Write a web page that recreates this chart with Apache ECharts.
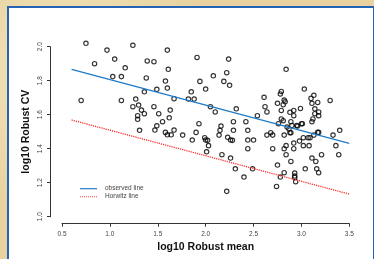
<!DOCTYPE html>
<html>
<head>
<meta charset="utf-8">
<script src="https://cdn.jsdelivr.net/npm/echarts@6/dist/echarts.min.js"></script>
<style>
html,body{margin:0;padding:0;width:374px;height:259px;overflow:hidden;
  background:#e8d3a0;
  background-image:radial-gradient(circle at 20% 30%, rgba(255,245,215,0.6) 0, rgba(255,245,215,0) 40%),
                   radial-gradient(circle at 80% 70%, rgba(200,170,110,0.35) 0, rgba(200,170,110,0) 45%);}
#panel{position:absolute;left:7px;top:6px;width:368px;height:260px;background:#fff;
  border:2px solid #2563b5;box-sizing:border-box;}
#chart{position:absolute;left:0;top:0;width:374px;height:259px;}
</style>
</head>
<body>
<div id="panel"></div>
<div id="chart"></div>
<script>
// x = log10 Robust mean, y = log10 Robust CV
const meanX = [0.75,0.70,0.84,0.97,1.05,1.03,1.12,1.12,1.16,1.24,1.24,1.27,1.30,1.29,1.29,1.33,1.36,1.31,1.36,1.38,
  1.39,1.46,1.46,1.49,1.47,1.49,1.51,1.55,1.58,1.60,1.60,1.61,1.58,1.60,1.62,1.63,1.64,1.67,1.67,1.76,
  1.82,1.85,1.88,1.86,1.90,1.91,1.93,1.94,2.00,1.99,2.00,2.02,2.03,2.01,2.05,2.08,2.10,2.15,2.16,2.14,
  2.17,2.19,2.22,2.24,2.25,2.23,2.26,2.28,2.29,2.29,2.26,2.31,2.32,2.22,2.40,2.42,2.44,2.44,2.44,2.50,
  2.49,2.54,2.61,2.62,2.64,2.64,2.68,2.70,2.70,2.75,2.76,2.75,2.74,2.78,2.78,2.79,2.79,2.79,2.81,2.81,
  2.82,2.83,2.82,2.82,2.84,2.84,2.82,2.84,2.85,2.87,2.88,2.88,2.89,2.89,2.89,2.90,2.92,2.92,2.92,2.92,
  2.93,2.93,2.93,2.94,2.95,2.96,2.99,2.98,3.00,3.01,3.02,3.02,3.04,3.03,3.07,3.09,3.08,3.10,3.11,3.11,
  3.12,3.11,3.13,3.13,3.14,3.14,3.15,3.16,3.17,3.18,3.17,3.18,3.18,3.18,3.21,3.30,3.33,3.36,3.39,3.40];
const cvY = [2.02,1.684,1.90,1.98,1.927,1.824,1.824,1.684,1.876,2.008,1.647,1.692,1.657,1.594,1.573,1.627,1.606,1.508,1.735,1.816,
  1.916,1.912,1.647,1.749,1.51,1.535,1.606,1.559,1.798,1.757,1.98,1.867,1.496,1.482,1.582,1.627,1.482,1.694,1.51,1.48,
  1.692,1.735,1.692,1.451,1.496,1.937,1.547,1.796,1.751,1.465,1.451,1.449,1.418,1.382,1.647,1.829,1.616,1.508,1.533,1.48,
  1.365,1.796,1.847,1.927,1.773,1.467,1.451,1.449,1.559,1.508,1.345,1.282,1.635,1.149,1.233,1.559,1.508,1.451,1.40,1.451,
  1.282,1.594,1.702,1.647,1.616,1.48,1.494,1.48,1.40,1.667,1.547,1.304,1.178,1.233,1.722,1.737,1.625,1.575,1.565,1.659,
  1.686,1.676,1.48,1.40,1.418,1.365,1.259,1.867,1.527,1.516,1.494,1.614,1.494,1.559,1.325,1.537,1.594,1.625,1.433,1.40,
  1.257,1.239,1.231,1.206,1.537,1.533,1.637,1.445,1.547,1.547,1.465,1.418,1.282,1.751,1.465,1.465,1.418,1.696,1.667,1.559,
  1.575,1.345,1.48,1.714,1.606,1.635,1.325,1.282,1.496,1.496,1.672,1.616,1.594,1.259,1.365,1.684,1.48,1.418,1.365,1.508];
const lineX = [0.6, 3.5];
const observedY = [1.867, 1.432];
const horwitzY = [1.569, 1.133];
const xTicks = [0.5, 1.0, 1.5, 2.0, 2.5, 3.0, 3.5];
const yTicks = [1.0, 1.2, 1.4, 1.6, 1.8, 2.0];
const legendNames = ['observed line', 'Horwitz line'];

const pts = meanX.map((x, i) => [x, cvY[i]]);
const chart = echarts.init(document.getElementById('chart'), null, {renderer: 'canvas'});
const FONT = '"Liberation Sans", Arial, sans-serif';
chart.setOption({
  backgroundColor: 'transparent',
  animation: false,
  grid: {left: 62, right: 24.7, top: 46.7, bottom: 42.3},
  xAxis: {
    type: 'value', min: xTicks[0], max: xTicks[xTicks.length - 1], interval: 0.5, offset: 7,
    name: 'log10 Robust mean', nameLocation: 'middle', nameGap: 18, nameMoveOverlap: false,
    nameTextStyle: {fontFamily: FONT, fontWeight: 'bold', fontSize: 10.5, color: '#111'},
    axisLine: {show: true, lineStyle: {color: '#333', width: 1}},
    axisTick: {show: true, length: 3, lineStyle: {color: '#333'}},
    axisLabel: {fontFamily: FONT, fontSize: 6.5, color: '#444', margin: 7, formatter: v => v.toFixed(1)},
    splitLine: {show: false}
  },
  yAxis: {
    type: 'value', min: yTicks[0], max: yTicks[yTicks.length - 1], interval: 0.2, offset: 12,
    name: 'log10 Robust CV', nameLocation: 'middle', nameGap: 18, nameRotate: 90, nameMoveOverlap: false,
    nameTextStyle: {fontFamily: FONT, fontWeight: 'bold', fontSize: 10.5, color: '#111'},
    axisLine: {show: true, lineStyle: {color: '#333', width: 1}},
    axisTick: {show: true, length: 3, lineStyle: {color: '#333'}},
    axisLabel: {fontFamily: FONT, fontSize: 6.5, color: '#444', margin: 6, rotate: 90, formatter: v => v.toFixed(1)},
    splitLine: {show: false}
  },
  series: [
    {type: 'scatter', data: pts, symbol: 'circle', symbolSize: 4.4, clip: false,
     itemStyle: {color: 'rgba(0,0,0,0)', borderColor: '#000', borderWidth: 1.15}},
    {type: 'line', name: legendNames[0], data: lineX.map((x, i) => [x, observedY[i]]), showSymbol: false, clip: false,
     lineStyle: {color: '#1f7ac9', width: 1.3}},
    {type: 'line', name: legendNames[1], data: lineX.map((x, i) => [x, horwitzY[i]]), showSymbol: false, clip: false,
     lineStyle: {color: '#ff2a2a', width: 1.3, type: [1.2, 1]}}
  ],
  graphic: [
    {type: 'line', shape: {x1: 80, y1: 188.7, x2: 97, y2: 188.7}, style: {stroke: '#1f7ac9', lineWidth: 1.2}},
    {type: 'line', shape: {x1: 80, y1: 196.7, x2: 97, y2: 196.7}, style: {stroke: '#ff6666', lineWidth: 1.2, lineDash: [1, 1]}},
    {type: 'text', x: 105, y: 188.7, style: {text: legendNames[0], font: '6.5px ' + FONT, fill: '#444', verticalAlign: 'middle'}},
    {type: 'text', x: 105, y: 196.7, style: {text: legendNames[1], font: '6.5px ' + FONT, fill: '#444', verticalAlign: 'middle'}}
  ]
});
</script>
</body>
</html>
